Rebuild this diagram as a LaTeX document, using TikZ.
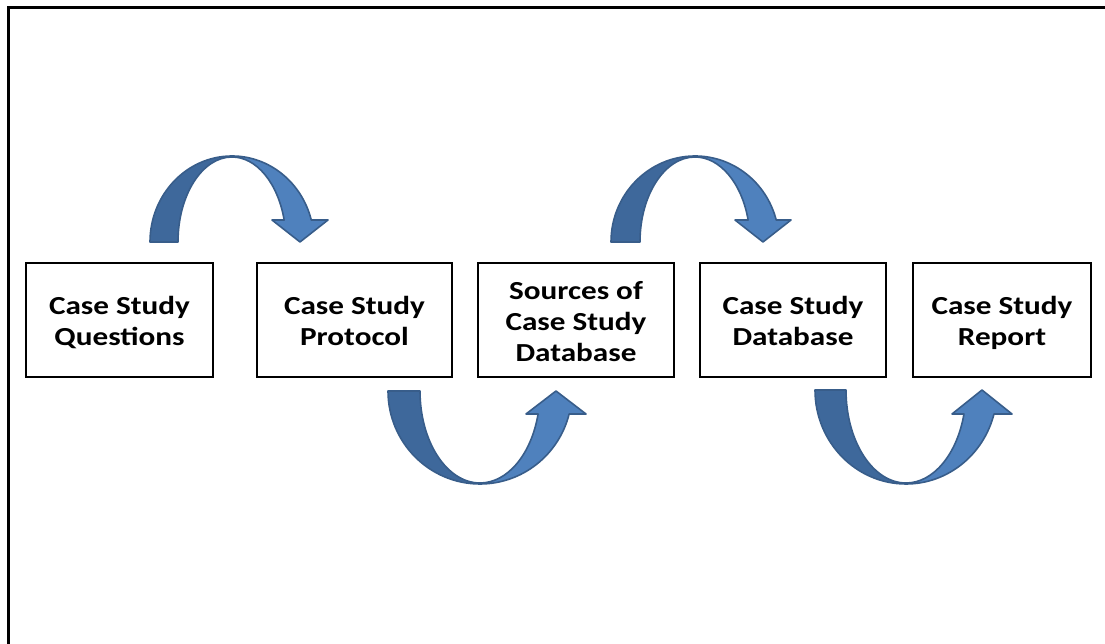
\documentclass[tikz,border=0pt]{standalone}
\usepackage{fontspec}
\newfontfamily\boxfont{Carlito}[FakeStretch=1.2]
\definecolor{arrowdark}{RGB}{62,104,155}
\definecolor{arrowlight}{RGB}{79,129,189}
\definecolor{arrowline}{RGB}{56,93,138}
\tikzset{
  stagebox/.style={draw=black, line width=2.5pt, fill=white, minimum height=114pt,
    inner sep=0pt,
    font=\boxfont\bfseries\fontsize{26}{31}\selectfont},
  backband/.style={fill=arrowdark, draw=arrowline, line width=1.6pt, line join=round},
  frontband/.style={fill=arrowlight, draw=arrowline, line width=1.6pt, line join=round},
}
% centred lines of a stage label, drawn a little below the box centre
\newcommand\stagetext[1]{\raisebox{-4pt}[\height][\depth]{\begin{tabular}{@{}c@{}}#1\end{tabular}}}
% curved block arrow: #1 centre, #2 yscale (1 = over, -1 = under),
% #3 outer x radius, #4 inner x radius, #5 y radius,
% #6 tip offset, #7 head half width, #8 head height
\newcommand\bentarrow[8]{%
  \begin{scope}[shift={#1}, yscale=#2]
    % back half of the band
    \path[backband] (-#3,0) arc[start angle=180, end angle=90, x radius=#3, y radius=#5]
      -- ++(0,-1) arc[start angle=90, end angle=180, x radius=#4, y radius={#5-1}] -- cycle;
    % front half with the head
    \pgfmathsetmacro\so{asin(#8/#5)}
    \pgfmathsetmacro\si{asin(#8/(#5-1))}
    \path[frontband] (0,#5) arc[start angle=90, end angle=\so, x radius=#3, y radius=#5]
      -- ({#6+#7},#8) -- (#6,0) -- ({#6-#7},#8)
      -- ({#4*cos(\si)},#8) arc[start angle=\si, end angle=90, x radius=#4, y radius={#5-1}]
      -- cycle;
  \end{scope}}
\begin{document}
\begin{tikzpicture}[x=1pt,y=1pt]
  \useasboundingbox (0,0) rectangle (1105,644);
  % page frame, running off the right and lower edges
  \draw[line width=3pt] (8.5,-20) -- (8.5,636) -- (1130,636);

  \node[stagebox, minimum width=187pt] (q) at (119.5,324) {\stagetext{Case Study\\Questions}};
  \node[stagebox, minimum width=195pt] (p) at (354.5,324) {\stagetext{Case Study\\Protocol}};
  \node[stagebox, minimum width=196pt] (s) at (576,324) {\stagetext{Sources of\\Case Study\\Database}};
  \node[stagebox, minimum width=186pt] (d) at (793,324) {\stagetext{Case Study\\Database}};
  \node[stagebox, minimum width=178pt] (r) at (1002,324) {\stagetext{Case Study\\Report}};

  % arrows over the row
  \bentarrow{(232,402)}{1}{82}{54}{86}{68}{28}{22}
  \bentarrow{(695,402)}{1}{84}{55}{86}{68}{28}{22}
  % arrows under the row
  \bentarrow{(480,253)}{-1}{92}{60}{93}{76}{30}{23}
  \bentarrow{(906,254)}{-1}{91}{60}{94}{76}{30}{24}
\end{tikzpicture}
\end{document}
